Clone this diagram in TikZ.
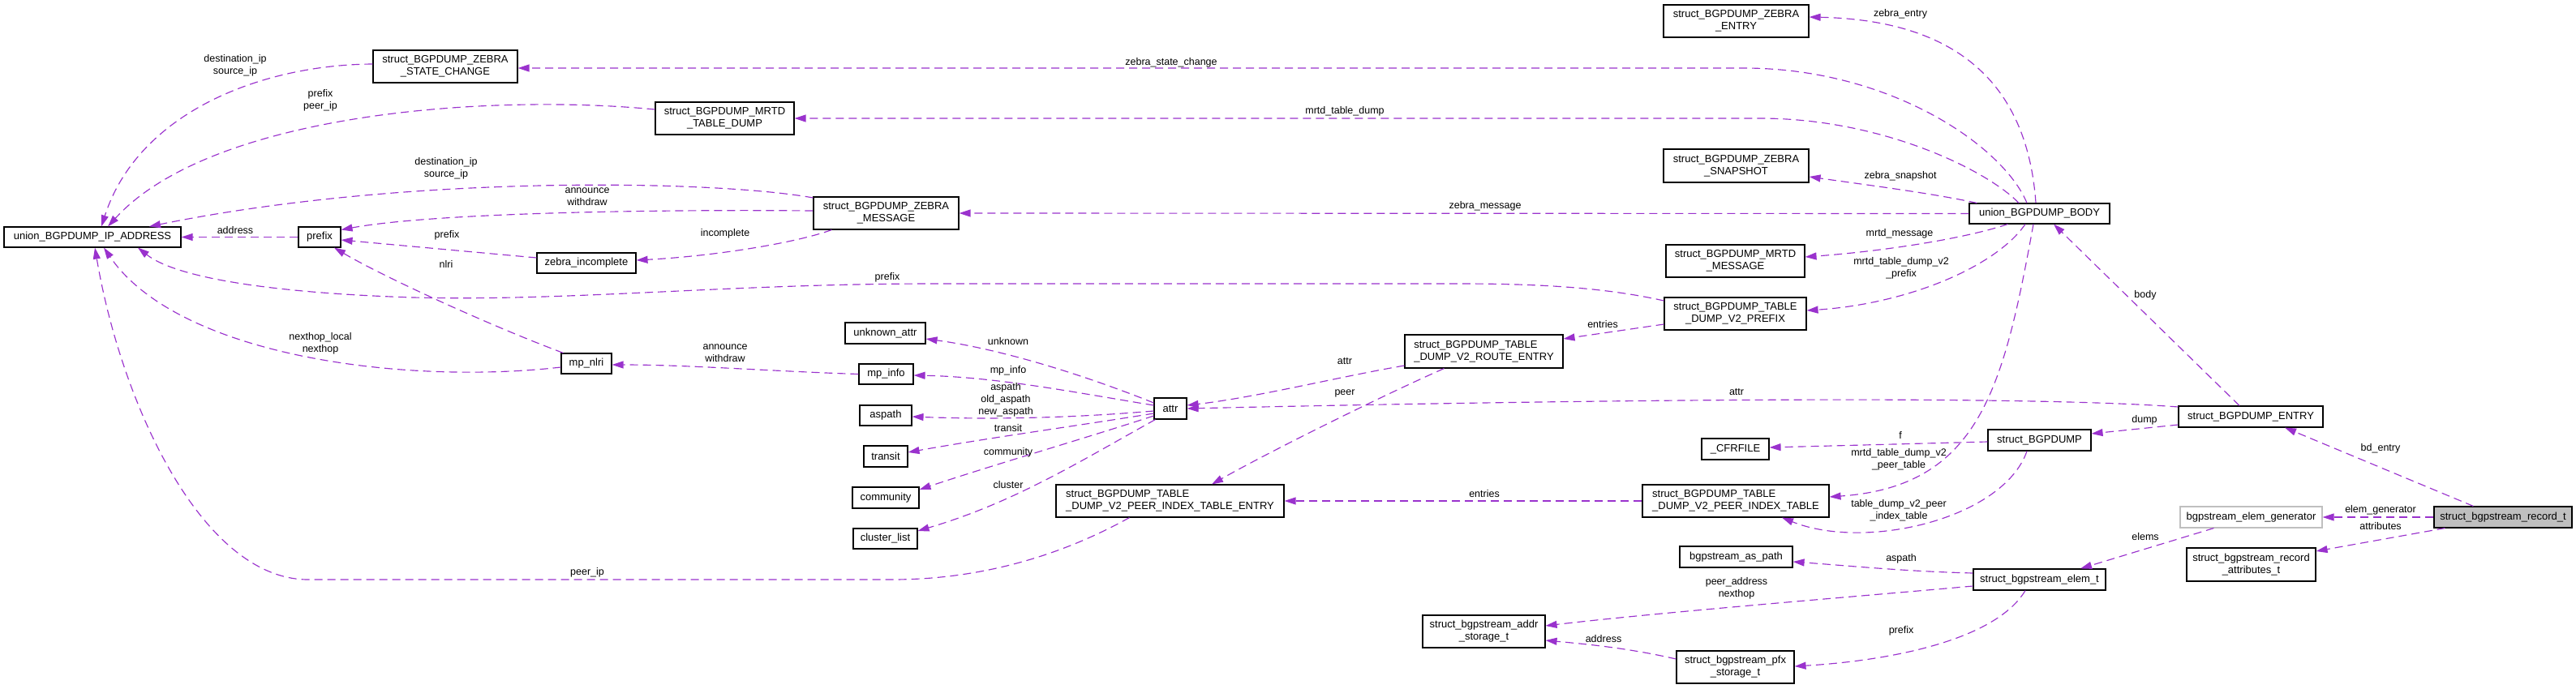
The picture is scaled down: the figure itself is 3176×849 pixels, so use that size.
\documentclass[tikz,border=0pt]{standalone}
\usepackage{fontspec}
\setmainfont{Liberation Sans}
\usetikzlibrary{arrows.meta,calc}
\definecolor{edgec}{HTML}{9A32CD}
\definecolor{greyseventyfive}{HTML}{BFBFBF}
\newcommand\dgfont{\fontsize{13}{15}\selectfont}
\newcommand\dglblfont{\fontsize{12.5}{15}\selectfont}
\begin{document}
\begin{tikzpicture}[x=1pt,y=-1pt,
  box/.style={draw=black,line width=1.1pt,fill=white,inner sep=0pt,align=center,font=\dgfont},
  sz/.style 2 args={minimum width=#1pt,minimum height=#2pt},
  lbl/.style={inner sep=0pt,align=center,font=\dglblfont},
  rel/.style={draw=edgec,line width=1.15pt,dash pattern=on 10pt off 6pt,-{Triangle[length=14pt,width=9pt]}}]
\useasboundingbox (0,0) rectangle (3176,849);

% ---------- nodes ----------
\node[box,sz={178}{40}] (zsc) at (549,82) {struct\_BGPDUMP\_ZEBRA\\\_STATE\_CHANGE};
\node[box,sz={171}{40}] (mtd) at (893.5,146) {struct\_BGPDUMP\_MRTD\\\_TABLE\_DUMP};
\node[box,sz={218}{25}] (ip) at (114,292.5) {union\_BGPDUMP\_IP\_ADDRESS};
\node[box,sz={52}{25}] (prefix) at (394,292.5) {prefix};
\node[box,sz={122}{25}] (zinc) at (723,324.5) {zebra\_incomplete};
\node[box,sz={179}{40}] (zmsg) at (1092.5,263) {struct\_BGPDUMP\_ZEBRA\\\_MESSAGE};
\node[box,sz={62}{25}] (mpnlri) at (723,448.5) {mp\_nlri};
\node[box,sz={99}{26}] (unk) at (1091.5,411) {unknown\_attr};
\node[box,sz={67}{25}] (mpinfo) at (1092.5,461.5) {mp\_info};
\node[box,sz={64}{25}] (aspath) at (1092,512.5) {aspath};
\node[box,sz={54}{26}] (transit) at (1092,563) {transit};
\node[box,sz={82}{26}] (community) at (1092,614) {community};
\node[box,sz={79}{25}] (cluster) at (1091.5,664.5) {cluster\_list};
\node[box,sz={40}{26}] (attr) at (1443,504) {attr};
\node[box,sz={195}{41},align=left] (rentry) at (1829.5,433.5) {struct\_BGPDUMP\_TABLE\\\_DUMP\_V2\_ROUTE\_ENTRY};
\node[box,sz={281}{40},align=left] (pite) at (1442.5,618) {struct\_BGPDUMP\_TABLE\\\_DUMP\_V2\_PEER\_INDEX\_TABLE\_ENTRY};
\node[box,sz={179}{40}] (zentry) at (2140.5,26) {struct\_BGPDUMP\_ZEBRA\\\_ENTRY};
\node[box,sz={179}{41}] (zsnap) at (2140.5,204.5) {struct\_BGPDUMP\_ZEBRA\\\_SNAPSHOT};
\node[box,sz={173}{25}] (body) at (2514.5,263.5) {union\_BGPDUMP\_BODY};
\node[box,sz={171}{40}] (mmsg) at (2139.5,322) {struct\_BGPDUMP\_MRTD\\\_MESSAGE};
\node[box,sz={175}{40}] (v2p) at (2139.5,387) {struct\_BGPDUMP\_TABLE\\\_DUMP\_V2\_PREFIX};
\node[box,sz={83}{26}] (cfr) at (2139.5,554) {\_CFRFILE};
\node[box,sz={230}{40},align=left] (pit) at (2140,618) {struct\_BGPDUMP\_TABLE\\\_DUMP\_V2\_PEER\_INDEX\_TABLE};
\node[box,sz={139}{26}] (aspathb) at (2140.5,687) {bgpstream\_as\_path};
\node[box,sz={151}{40}] (addr) at (1829.5,779) {struct\_bgpstream\_addr\\\_storage\_t};
\node[box,sz={145}{40}] (pfx) at (2139.5,823) {struct\_bgpstream\_pfx\\\_storage\_t};
\node[box,sz={178}{26}] (bentry) at (2775,514) {struct\_BGPDUMP\_ENTRY};
\node[box,sz={127}{26}] (bgpdump) at (2514.5,543) {struct\_BGPDUMP};
\node[box,sz={175}{26},draw=greyseventyfive] (egen) at (2775.5,638) {bgpstream\_elem\_generator};
\node[box,sz={170}{26},fill=greyseventyfive] (rec) at (3086,638) {struct\_bgpstream\_record\_t};
\node[box,sz={159}{41}] (rattr) at (2775.5,696.5) {struct\_bgpstream\_record\\\_attributes\_t};
\node[box,sz={163}{26}] (elem) at (2514.5,715) {struct\_bgpstream\_elem\_t};

% ---------- connectors ----------
\draw[rel] ($(zsc.west)+(0,-3)$) .. controls (320,80) and (170,140) .. ($(ip.north)+(11,0)$);
\draw[rel] ($(mtd.west)+(0,-11)$) .. controls (600,115) and (260,140) .. ($(ip.north)+(19,0)$);
\draw[rel] ($(zmsg.west)+(0,-19)$) .. controls (880,222) and (500,215) .. ($(ip.north)+(70,0)$);
\draw[rel] ($(zmsg.west)+(0,-3)$) .. controls (750,258) and (520,265) .. ($(prefix.east)+(0,-9)$);
\draw[rel] ($(zmsg.south west)+(23,0)$) .. controls (980,300) and (880,316) .. ($(zinc.east)+(0,-3.5)$);
\draw[rel] ($(zinc.west)+(0,-6.5)$) -- ($(prefix.east)+(0,3.5)$);
\draw[rel] (prefix.west) -- (ip.east);
\draw[rel] ($(mpnlri.north west)+(3,0)$) .. controls (600,400) and (470,340) .. ($(prefix.south)+(18,0)$);
\draw[rel] ($(mpnlri.west)+(0,4.5)$) .. controls (500,475) and (220,440) .. ($(ip.south)+(14,0)$);
\draw[rel] ($(v2p.west)+(0,-16)$) .. controls (1980,355) and (1900,350) .. (1800,350) -- (1150,350)
   .. controls (900,350) and (700,372) .. (510,367) .. controls (350,362) and (220,345) .. ($(ip.south)+(56,0)$);
\draw[rel] ($(pite.south)+(-50,0)$) .. controls (1300,690) and (1200,715) .. (1100,715) -- (380,715)
   .. controls (250,715) and (150,500) .. ($(ip.south)+(3,0)$);
\draw[rel] (mpinfo.west) .. controls (950,458) and (850,450) .. ($(mpnlri.east)+(0,1.5)$);
\draw[rel] ($(attr.west)+(0,-7)$) .. controls (1330,460) and (1230,430) .. ($(unk.east)+(0,7)$);
\draw[rel] ($(attr.west)+(0,-4)$) .. controls (1330,485) and (1230,465) .. ($(mpinfo.east)+(0,1.5)$);
\draw[rel] ($(attr.west)+(0,3)$) .. controls (1330,515) and (1230,518) .. ($(aspath.east)+(0,1.5)$);
\draw[rel] ($(attr.west)+(0,6)$) .. controls (1330,525) and (1220,540) .. ($(transit.east)+(0,-5)$);
\draw[rel] ($(attr.west)+(0,9)$) .. controls (1340,540) and (1220,575) .. ($(community.east)+(0,-10)$);
\draw[rel] ($(attr.south west)+(2,0)$) .. controls (1330,570) and (1250,620) .. ($(cluster.east)+(0,-9.5)$);
\draw[rel] ($(rentry.west)+(0,17.5)$) .. controls (1650,465) and (1550,490) .. ($(attr.east)+(0,-4)$);
\draw[rel] ($(rentry.south west)+(49,0)$) .. controls (1700,490) and (1560,560) .. ($(pite.north)+(51.5,0)$);
\draw[rel] ($(bentry.west)+(0,-12)$) .. controls (2500,488) and (2000,492) .. (attr.east);
\draw[rel] ($(v2p.west)+(0,13)$) -- ($(rentry.east)+(0,-15.5)$);
\draw[rel] (pit.west) -- (pite.east);
\draw[rel] ($(body.north)+(-15.5,0)$) .. controls (2470,180) and (2330,84) .. (2150,84) -- ($(zsc.east)+(0,2)$);
\draw[rel] ($(body.north)+(-25.5,0)$) .. controls (2450,210) and (2320,146) .. (2170,146) -- (mtd.east);
\draw[rel] ($(body.north)+(-4.5,0)$) .. controls (2500,110) and (2420,25) .. ($(zentry.east)+(0,-5)$);
\draw[rel] ($(body.north west)+(10,0)$) .. controls (2380,238) and (2300,228) .. ($(zsnap.east)+(0,13.5)$);
\draw[rel] (body.west) -- (zmsg.east);
\draw[rel] ($(body.south west)+(48,0)$) .. controls (2420,295) and (2320,310) .. ($(mmsg.east)+(0,-5)$);
\draw[rel] ($(body.south)+(-17.5,0)$) .. controls (2460,330) and (2350,375) .. ($(v2p.east)+(0,-4)$);
\draw[rel] ($(body.south)+(-7.5,0)$) .. controls (2470,480) and (2440,600) .. ($(pit.east)+(0,-5)$);
\draw[rel] ($(bgpdump.south)+(-15.5,0)$) .. controls (2470,640) and (2300,680) .. ($(pit.south)+(57,0)$);
\draw[rel] ($(bgpdump.west)+(0,2)$) -- ($(cfr.east)+(0,-2)$);
\draw[rel] ($(bentry.west)+(0,10)$) -- ($(bgpdump.east)+(0,-8)$);
\draw[rel] ($(bentry.north)+(-14,0)$) -- ($(body.south)+(17.5,0)$);
\draw[rel] ($(rec.north west)+(49,0)$) -- ($(bentry.south)+(42,0)$);
\draw[rel] (rec.west) -- (egen.east);
\draw[rel] ($(rec.south west)+(14,0)$) -- ($(rattr.east)+(0,-16.5)$);
\draw[rel] ($(egen.south west)+(42,0)$) -- ($(elem.north)+(50.5,0)$);
\draw[rel] ($(elem.west)+(0,-8)$) .. controls (2350,705) and (2280,698) .. ($(aspathb.east)+(0,6)$);
\draw[rel] ($(elem.west)+(0,8)$) .. controls (2300,735) and (2050,755) .. ($(addr.east)+(0,-7)$);
\draw[rel] ($(elem.south)+(-17.5,0)$) .. controls (2460,790) and (2330,815) .. ($(pfx.east)+(0,-1)$);
\draw[rel] ($(pfx.west)+(0,-10)$) .. controls (2010,800) and (1960,795) .. ($(addr.east)+(0,11)$);

% ---------- labels ----------
\node[lbl] (l1) at (290,81) {destination\_ip\\source\_ip};
\node[lbl] (l2) at (395,124) {prefix\\peer\_ip};
\node[lbl] (l3) at (550,208) {destination\_ip\\source\_ip};
\node[lbl] (l4) at (724,243) {announce\\withdraw};
\node[lbl] (l5) at (894,288) {incomplete};
\node[lbl] (l6) at (551,290) {prefix};
\node[lbl] (l7) at (290,284) {address};
\node[lbl] (l8) at (550,326) {nlri};
\node[lbl] (l9) at (395,424) {nexthop\_local\\nexthop};
\node[lbl] (l10) at (1094,342) {prefix};
\node[lbl] (l11) at (724,706) {peer\_ip};
\node[lbl] (l12) at (894,436) {announce\\withdraw};
\node[lbl] (l13) at (1243,421) {unknown};
\node[lbl] (l14) at (1243,457) {mp\_info};
\node[lbl] (l15) at (1240,493) {aspath\\old\_aspath\\new\_aspath};
\node[lbl] (l16) at (1243,528) {transit};
\node[lbl] (l17) at (1243,558) {community};
\node[lbl] (l18) at (1243,598) {cluster};
\node[lbl] (l19) at (1658,446) {attr};
\node[lbl] (l20) at (1658,485) {peer};
\node[lbl] (l21) at (2141,484) {attr};
\node[lbl] (l22) at (1976,400) {entries};
\node[lbl] (l23) at (1830,609) {entries};
\node[lbl] (l24) at (1444,77) {zebra\_state\_change};
\node[lbl] (l25) at (1658,137) {mrtd\_table\_dump};
\node[lbl] (l26) at (2343,17) {zebra\_entry};
\node[lbl] (l27) at (2343,217) {zebra\_snapshot};
\node[lbl] (l28) at (1831,254) {zebra\_message};
\node[lbl] (l29) at (2342,288) {mrtd\_message};
\node[lbl] (l30) at (2344,331) {mrtd\_table\_dump\_v2\\\_prefix};
\node[lbl] (l31) at (2341,567) {mrtd\_table\_dump\_v2\\\_peer\_table};
\node[lbl] (l32) at (2341,630) {table\_dump\_v2\_peer\\\_index\_table};
\node[lbl] (l33) at (2343,537) {f};
\node[lbl] (l34) at (2644,518) {dump};
\node[lbl] (l35) at (2645,364) {body};
\node[lbl] (l36) at (2935,553) {bd\_entry};
\node[lbl] (l37) at (2935,629) {elem\_generator};
\node[lbl] (l38) at (2935,649) {attributes};
\node[lbl] (l39) at (2645,662) {elems};
\node[lbl] (l40) at (2344,689) {aspath};
\node[lbl] (l41) at (2141,726) {peer\_address\\nexthop};
\node[lbl] (l42) at (2344,778) {prefix};
\node[lbl] (l43) at (1977,788) {address};
\end{tikzpicture}
\end{document}
